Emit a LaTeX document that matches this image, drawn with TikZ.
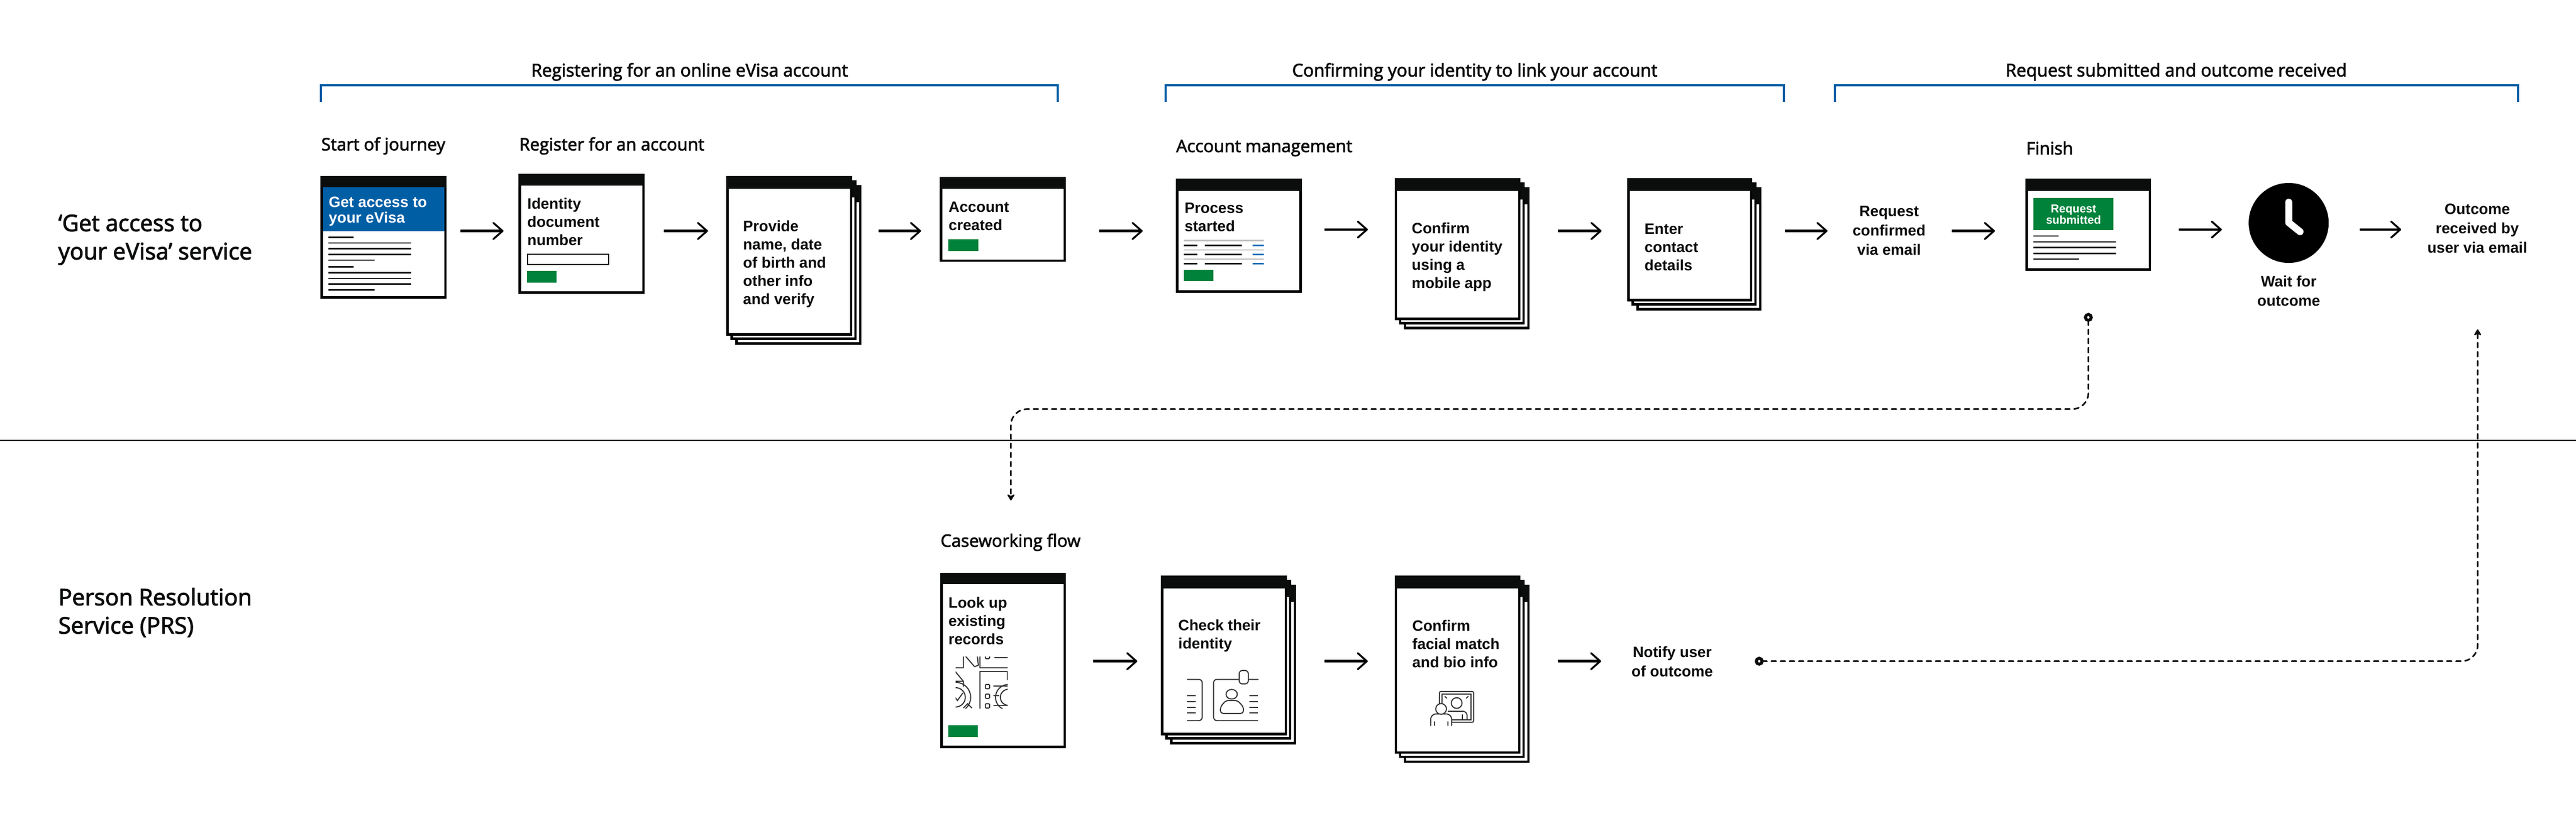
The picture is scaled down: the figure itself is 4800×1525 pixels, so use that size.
\documentclass[tikz,border=0pt]{standalone}
\usepackage{fontspec}
\setmainfont{Liberation Sans}
\newfontfamily\headfont[FakeBold=2.6]{Open Sans}
\usetikzlibrary{arrows.meta}

\definecolor{ink}{HTML}{0B0C0C}
\definecolor{brandblue}{HTML}{005EA5}
\definecolor{linkblue}{HTML}{1D70B8}
\definecolor{actiongreen}{HTML}{00823B}
\definecolor{rulegrey}{HTML}{BFBFBF}

\tikzset{
  page/.style={draw=black, fill=white, line width=0.045cm, rectangle, inner sep=0pt, outer sep=0pt},
  pagebar/.style={fill=ink},
  bracket/.style={draw=brandblue, line width=0.035cm},
  flow/.style={draw=black, line width=0.045cm, -{Straight Barb[length=0.17cm, width=0.3cm, line width=0.035cm, round]}},
  dashflow/.style={draw=ink, line width=0.03cm, line cap=round, rounded corners=0.3cm, dash pattern=on 0.09cm off 0.08cm, -{Stealth[length=0.14cm, width=0.17cm, round]}},
  enddot/.style={circle, draw=ink, fill=white, line width=0.056cm, minimum size=0.11cm, inner sep=0pt, outer sep=0pt},
  pagetext/.style={anchor=west, align=left, inner sep=0pt, text=ink, font=\bfseries\fontsize{8}{9.67}\selectfont},
  steptext/.style={align=center, inner sep=0pt, text=ink, font=\bfseries\fontsize{8}{10.25}\selectfont},
  grouptext/.style={inner sep=0pt, text=ink, font=\headfont\fontsize{9.3}{11}\selectfont},
  stagetext/.style={anchor=west, inner sep=0pt, text=ink, font=\headfont\fontsize{9.1}{11}\selectfont},
  lanetext/.style={anchor=west, align=left, inner sep=0pt, text=ink, font=\headfont\fontsize{12.1}{15}\selectfont},
  pagerule/.style={draw=ink, line width=0.025cm},
  greyrule/.style={draw=rulegrey, line width=0.025cm},
  bluerule/.style={draw=linkblue, line width=0.025cm},
  iconline/.style={draw=black!80, line width=0.02cm},
}

% name, left, top, right, bottom, bar height (outer edges, in pixels)
\newcommand{\screen}[6]{
  \node[page, minimum width={((#4)-(#2)-4.5)*0.01cm}, minimum height={((#5)-(#3)-4.5)*0.01cm}] (#1) at ({((#2)+(#4))/2},{((#3)+(#5))/2}) {};
  \fill[pagebar] (#2,#3) rectangle (#4,{(#3)+(#6)});
}
% the same page with two more behind it
\newcommand{\pagestack}[5]{
  \screen{#1third}{#2+17}{#3+17}{#4+17}{#5+17}{32}
  \screen{#1second}{#2+8}{#3+8}{#4+8}{#5+8}{32}
  \screen{#1}{#2}{#3}{#4}{#5}{24}
}

\begin{document}
\begin{tikzpicture}[x=0.01cm, y=-0.01cm]
  \useasboundingbox (0,0) rectangle (4800,1525);

  \coordinate (toprow) at (0,430.6);
  \coordinate (clockrow) at (0,428);
  \coordinate (lowrow) at (0,1232.7);

  % swimlane
  \draw[draw=black, line width=0.028cm] (0,821) -- (4800,821);
  \node[lanetext] (lanetop) at (108,447) {‘Get access to\\your eVisa’ service};
  \node[lanetext] (lanelow) at (108,1142) {Person Resolution\\Service (PRS)};

  % groups
  \draw[bracket] (598,190) |- (1971,159) -- (1971,190);
  \draw[bracket] (2172,190) |- (3324,159) -- (3324,190);
  \draw[bracket] (3419,190) |- (4692,159) -- (4692,190);
  \node[grouptext] (groupreg) at (1285,134) {Registering for an online eVisa account};
  \node[grouptext] (groupid) at (2748,134) {Confirming your identity to link your account};
  \node[grouptext] (groupout) at (4055,134) {Request submitted and outcome received};

  \node[stagetext] (stagestart) at (598,272) {Start of journey};
  \node[stagetext] (stagereg) at (967,272) {Register for an account};
  \node[stagetext] (stageacc) at (2191,276) {Account management};
  \node[stagetext] (stagefin) at (3775,276) {Finish};
  \node[stagetext] (stagecase) at (1752,1011) {Caseworking flow};

  % start page
  \screen{start}{597}{328}{832}{557}{21}
  \fill[brandblue] (602,349) rectangle (828,431);
  \node[pagetext, text=white] (starttext) at (612,394) {Get access to\\[-1.2pt]your eVisa};
  \draw[pagerule] (612,442.3) -- (659,442.3);
  \draw[pagerule] (612,453) -- (766,453);
  \draw[pagerule] (612,463.7) -- (766,463.7);
  \draw[pagerule] (612,474.3) -- (766,474.3);
  \draw[pagerule] (612,485) -- (698,485);
  \draw[pagerule] (612,497.7) -- (659,497.7);
  \draw[pagerule] (612,508.3) -- (766,508.3);
  \draw[pagerule] (612,519) -- (766,519);
  \draw[pagerule] (612,529.7) -- (766,529.7);
  \draw[pagerule] (612,540.3) -- (698,540.3);

  % identity document
  \screen{idnumber}{966}{324}{1201}{548}{22}
  \node[pagetext] (idtext) at (982,413) {Identity\\document\\number};
  \draw[draw=ink, line width=0.02cm] (983,474) rectangle (1134,493);
  \fill[actiongreen] (982,505) rectangle (1036.5,527);

  \pagestack{provide}{1353}{328}{1588}{626}
  \node[pagetext] (providetext) at (1384,492) {Provide\\name, date\\of birth and\\other info\\and verify};

  \screen{created}{1751}{330}{1986}{488.5}{22}
  \node[pagetext] (createdtext) at (1767,403) {Account\\created};
  \fill[actiongreen] (1767,445.6) rectangle (1822.5,468);

  % account management
  \screen{process}{2191}{332.7}{2425.7}{546}{23}
  \node[pagetext] (processtext) at (2206.7,404.7) {Process\\started};
  \draw[greyrule] (2206,448.7) -- (2355,448.7);
  \draw[greyrule] (2206,466) -- (2355,466);
  \draw[greyrule] (2206,483) -- (2355,483);
  \draw[pagerule] (2206,457.3) -- (2230.7,457.3);
  \draw[pagerule] (2245,457.3) -- (2313.7,457.3);
  \draw[bluerule] (2334,457.3) -- (2355,457.3);
  \draw[pagerule] (2206,474.3) -- (2230.7,474.3);
  \draw[pagerule] (2245,474.3) -- (2313.7,474.3);
  \draw[bluerule] (2334,474.3) -- (2355,474.3);
  \draw[pagerule] (2206,491.3) -- (2230.7,491.3);
  \draw[pagerule] (2245,491.3) -- (2313.7,491.3);
  \draw[bluerule] (2334,491.3) -- (2355,491.3);
  \fill[actiongreen] (2206,503.3) rectangle (2261,524.3);

  \pagestack{mobile}{2598.6}{332.3}{2833}{596.8}
  \node[pagetext] (mobiletext) at (2630,479.5) {Confirm\\your identity\\using a\\mobile app};

  \pagestack{contact}{3032}{332.3}{3265}{562}
  \node[pagetext] (contacttext) at (3063.7,460.5) {Enter\\contact\\details};

  \node[steptext] (confirmed) at (3520,430) {Request\\confirmed\\via email};

  % finish page
  \screen{finish}{3774}{332.7}{4008}{505}{23}
  \fill[actiongreen] (3789,369) rectangle (3938,428.7);
  \node[align=center, inner sep=0pt, text=white, font=\bfseries\fontsize{6.1}{5.9}\selectfont] (finishtext) at (3863.7,400) {Request\\submitted};
  \draw[pagerule] (3789,440) -- (3835.7,440);
  \draw[pagerule] (3789,451) -- (3942.5,451);
  \draw[pagerule] (3789,461.7) -- (3942.5,461.7);
  \draw[pagerule] (3789,472.3) -- (3942.5,472.3);
  \draw[pagerule] (3789,483) -- (3874,483);

  % clock
  \node[circle, fill=black, minimum size=1.49cm, inner sep=0pt, outer sep=0pt] (clock) at (4264.6,415.6) {};
  \draw[draw=white, line width=0.13cm, line cap=round, line join=round] (4264.7,377) -- (4264.7,415) -- (4285.8,432);
  \node[steptext] (waittext) at (4264.7,542) {Wait for\\outcome};

  \node[steptext] (received) at (4616,426) {Outcome\\received by\\user via email};

  % caseworking
  \screen{lookup}{1752}{1068}{1986}{1394.7}{21}
  \node[pagetext] (lookuptext) at (1766.6,1157.5) {Look up\\existing\\records};
  \fill[actiongreen] (1766.6,1352) rectangle (1822,1373.7);
  % records picture, cut off on all sides
  \begin{scope}
    \clip (1780.7,1224) rectangle (1877.5,1320);
    \draw[iconline] (1780,1245) -- (1794.7,1245) -- (1794.7,1222);
    \draw[iconline] (1798,1222) -- (1816,1243);
    \draw[iconline] (1821,1222) -- (1823,1240) -- (1816,1243);
    \draw[iconline] (1826.3,1222) -- (1826.3,1245) -- (1880,1245);
    \draw[iconline] (1853,1226) -- (1880,1226);
    \draw[iconline, rounded corners=0.02cm] (1836,1222) rectangle (1844,1228);
    \draw[iconline] (1826.3,1322) -- (1826.3,1252) -- (1877,1252) -- (1877,1268);
    \draw[iconline] (1780,1252) -- (1795,1270) -- (1795,1280);
    \draw[iconline] (1780,1270) -- (1795,1270);
    \draw[iconline, rounded corners=0.02cm] (1836,1276) rectangle (1844,1284);
    \draw[iconline, rounded corners=0.02cm] (1836,1294) rectangle (1844,1302);
    \draw[iconline, rounded corners=0.02cm] (1836,1312) rectangle (1844,1320);
    \draw[iconline] (1851,1279) -- (1880,1279);
    \draw[iconline] (1851,1297) -- (1862,1297);
    \draw[iconline] (1851,1315) -- (1880,1315);
    \draw[iconline] (1780.7,1300) circle (28);
    \draw[iconline] (1780.7,1300) circle (18);
    \draw[iconline] (1778,1298) -- (1784,1306) -- (1794,1292);
    \draw[iconline] (1879,1300) circle (24);
    \draw[iconline] (1879,1300) circle (15);
    \draw[iconline] (1795,1320) -- (1803,1312) -- (1811,1320);
  \end{scope}

  \pagestack{check}{2163}{1072.7}{2398}{1370.7}
  \node[pagetext] (checktext) at (2195,1185) {Check their\\identity};
  % identity card
  \draw[iconline, rounded corners=0.06cm] (2212,1266.7) -- (2240,1266.7) -- (2240,1343.3) -- (2212,1343.3);
  \draw[iconline, rounded corners=0.06cm] (2345,1266.7) -- (2261.3,1266.7) -- (2261.3,1343.3) -- (2344,1343.3);
  \draw[iconline, fill=white, rounded corners=0.06cm] (2309,1250) rectangle (2326,1275);
  \draw[iconline] (2295,1294.3) ellipse (10.5 and 9);
  \draw[iconline, rounded corners=0.05cm] (2274,1330) -- (2274,1318) -- (2284,1306) -- (2306,1306) -- (2317,1318) -- (2317,1330) -- cycle;
  \draw[iconline] (2212,1296.7) -- (2227.5,1296.7);
  \draw[iconline] (2212,1308) -- (2227.5,1308);
  \draw[iconline] (2212,1319) -- (2227.5,1319);
  \draw[iconline] (2212,1329) -- (2227.5,1329);
  \draw[iconline] (2328,1296.7) -- (2344,1296.7);
  \draw[iconline] (2328,1308) -- (2344,1308);
  \draw[iconline] (2328,1319) -- (2344,1319);
  \draw[iconline] (2328,1329) -- (2344,1329);

  \pagestack{facial}{2598.5}{1073}{2833}{1405}
  \node[pagetext] (facialtext) at (2631,1200) {Confirm\\facial match\\and bio info};
  % person at a mirror
  \draw[iconline, rounded corners=0.03cm] (2682,1289) rectangle (2746,1346.7);
  \draw[iconline] (2687,1294) rectangle (2741,1341.7);
  \draw[iconline] (2714.3,1310.7) circle (10);
  \draw[iconline, rounded corners=0.08cm] (2698,1326) -- (2733.7,1326) -- (2733.7,1341);
  \draw[iconline] (2725,1332) -- (2725,1341);
  \draw[iconline] (2692,1298) -- (2696,1302);
  \draw[iconline] (2736,1298) -- (2732,1302);
  \draw[iconline, fill=white, rounded corners=0.1cm] (2665.8,1353.3) -- (2665.8,1331) -- (2705,1331) -- (2705,1353.3);
  \draw[iconline, fill=white] (2685.2,1321.7) circle (10);
  \draw[iconline] (2672.5,1345) -- (2672.5,1353.3);
  \draw[iconline] (2698,1345) -- (2698,1353.3);

  \node[steptext] (notify) at (3116,1233) {Notify user\\of outcome};

  % ends of the dashed connectors
  \node[enddot] (finishdot) at (3891.3,591.7) {};
  \node[enddot] (notifydot) at (3278,1232.7) {};
  \coordinate (caseturn) at (1883.7,762.7);
  \coordinate (caseentry) at (1883.7,933);
  \coordinate (outcomeentry) at (4616.7,614);

  \draw[dashflow] (finishdot.south) |- (caseturn) -- (caseentry);
  \draw[dashflow] (notifydot.east) -| (outcomeentry);

  % steps
  \draw[flow, shorten <=0.28cm, shorten >=0.30cm] (start.east |- toprow) -- (idnumber.west |- toprow);
  \draw[flow, shorten <=0.38cm, shorten >=0.36cm] (idnumber.east |- toprow) -- (provide.west |- toprow);
  \draw[flow, shorten <=0.51cm, shorten >=0.37cm] (provide.east |- toprow) -- (created.west |- toprow);
  \draw[flow, shorten <=0.64cm, shorten >=0.64cm] (created.east |- toprow) -- (process.west |- toprow);
  \draw[flow, shorten <=0.44cm, shorten >=0.52cm] (process.east |- clockrow) -- (mobile.west |- clockrow);
  \draw[flow, shorten <=0.72cm, shorten >=0.50cm] (mobile.east |- toprow) -- (contact.west |- toprow);
  \draw[flow, shorten <=0.63cm, shorten >=0.46cm] (contact.east |- toprow) -- (confirmed.west |- toprow);
  \draw[flow, shorten <=0.48cm, shorten >=0.59cm] (confirmed.east |- toprow) -- (finish.west |- toprow);
  \draw[flow, shorten <=0.54cm, shorten >=0.50cm] (finish.east |- clockrow) -- (clock.west |- clockrow);
  \draw[flow, shorten <=0.58cm, shorten >=0.48cm] (clock.east |- clockrow) -- (received.west |- clockrow);
  \draw[flow, shorten <=0.53cm, shorten >=0.46cm] (lookup.east |- lowrow) -- (check.west |- lowrow);
  \draw[flow, shorten <=0.72cm, shorten >=0.52cm] (check.east |- lowrow) -- (facial.west |- lowrow);
  \draw[flow, shorten <=0.72cm, shorten >=0.56cm] (facial.east |- lowrow) -- (notify.west |- lowrow);
\end{tikzpicture}
\end{document}
